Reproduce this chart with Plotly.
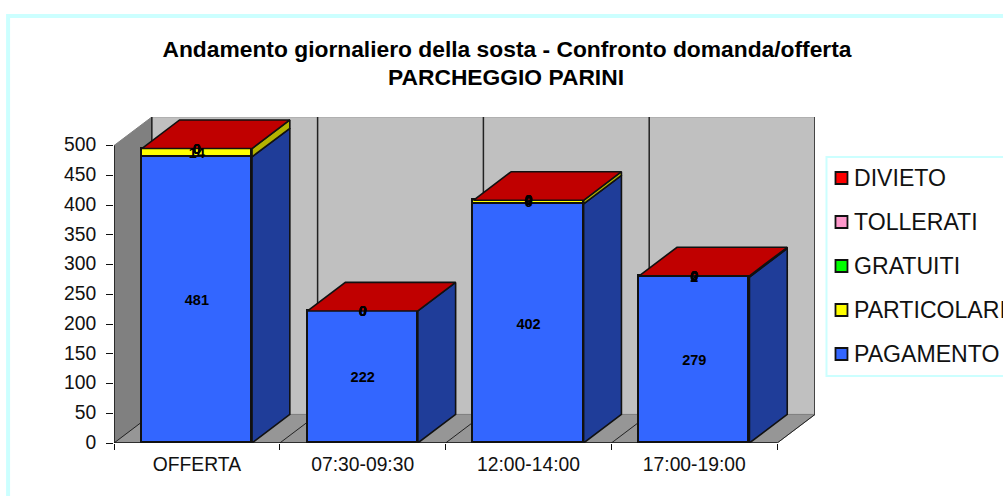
import plotly.graph_objects as go

# ── data ────────────────────────────────────────────
CATEGORIES = ["OFFERTA", "07:30-09:30", "12:00-14:00", "17:00-19:00"]
PAGAMENTO = [481, 222, 402, 279]
PARTICOLARI = [14, 0, 6, 2]
GRATUITI = [0, 0, 0, 0]
TOLLERATI = [0, 0, 0, 0]
DIVIETO = [0, 0, 0, 0]
Y_TICKS = [0, 50, 100, 150, 200, 250, 300, 350, 400, 450, 500]

SERIES = [
    ("PAGAMENTO", PAGAMENTO, "#3366FF", "#1F3D99"),
    ("PARTICOLARI", PARTICOLARI, "#FFFF00", "#B3B300"),
    ("GRATUITI", GRATUITI, "#00FF00", "#00B300"),
    ("TOLLERATI", TOLLERATI, "#FF99CC", "#B36B8F"),
    ("DIVIETO", DIVIETO, "#FF0000", "#C00000"),
]
TOP_FACE = "#C00000"
EDGE = "#111111"

# ── geometry of the fake 3D box ─────────────────────
BAR_W = 0.665
DX = 0.228  # depth in category units
DY = 48     # depth in value units
X_MAX = 4 + DX
Y_TOP = 500 + DY
LABEL_NUDGE = 2.5   # plotly sets text a little high of the given point

# plot area in pixels
L, R, T, B = 114, 815.5, 117, 443


def px(x):
    return (x - L) / (R - L)


def py(y):
    return (B - y) / (B - T)


def poly(xs, ys, fill):
    return go.Scatter(
        x=xs + xs[:1], y=ys + ys[:1], mode="lines", fill="toself", fillcolor=fill,
        line=dict(color=EDGE, width=1.6), hoverinfo="skip", showlegend=False,
        cliponaxis=False,
    )


fig = go.Figure()
centers = [i + 0.5 for i in range(len(CATEGORIES))]

# front faces
for name, vals, col, _ in SERIES:
    fig.add_trace(go.Bar(
        x=centers, y=vals, width=BAR_W, name=name, marker_color=col,
        marker_line=dict(color=EDGE, width=1.6), showlegend=False, cliponaxis=False,
    ))

# side and top faces, labels
base = [0] * len(CATEGORIES)
lx, ly, lt = [], [], []
for name, vals, col, side in SERIES:
    for i, v in enumerate(vals):
        x1 = centers[i] + BAR_W / 2
        if v > 0:
            fig.add_trace(poly(
                [x1, x1 + DX, x1 + DX, x1],
                [base[i], base[i] + DY, base[i] + v + DY, base[i] + v], side,
            ))
        lx.append(centers[i])
        ly.append(base[i] + v / 2 - LABEL_NUDGE)
        lt.append(str(v))
        base[i] += v

for i, c in enumerate(centers):
    x0, x1 = c - BAR_W / 2, c + BAR_W / 2
    fig.add_trace(poly(
        [x0, x1, x1 + DX, x0 + DX],
        [base[i], base[i], base[i] + DY, base[i] + DY], TOP_FACE,
    ))

fig.add_trace(go.Scatter(
    x=lx, y=ly, text=lt, mode="text", textposition="middle center",
    textfont=dict(family="Liberation Sans", size=14.5, color="#000000", weight="bold"),
    hoverinfo="skip", showlegend=False, cliponaxis=False,
))

# axis lines, only as long as the scale
fig.add_trace(go.Scatter(
    x=[0, 0, 4], y=[500, 0, 0], mode="lines", line=dict(color="#111111", width=1.5),
    hoverinfo="skip", showlegend=False, cliponaxis=False,
))

# walls and floor
shapes = [
    dict(type="path", path=f"M {DX} {DY} H {X_MAX} V {Y_TOP} H {DX} Z", fillcolor="#C0C0C0",
         line=dict(color="#A0A0A0", width=1)),
    dict(type="path", path=f"M 0 0 L {DX} {DY} V {Y_TOP} L 0 500 Z", fillcolor="#808080",
         line=dict(color="#808080", width=1)),
    dict(type="path", path=f"M 0 0 L {DX} {DY} H {X_MAX} L 4 0 Z", fillcolor="#969696",
         line=dict(color="#808080", width=1)),
]
for i in range(5):
    shapes.append(dict(type="line", x0=i + DX, x1=i + DX, y0=DY, y1=Y_TOP,
                       line=dict(color="#222222", width=1.5)))
    shapes.append(dict(type="line", x0=i, x1=i + DX, y0=0, y1=DY,
                       line=dict(color="#222222", width=1)))
for s in shapes:
    s.update(xref="x", yref="y", layer="below")

# outer frame and legend box
shapes.append(dict(type="rect", xref="paper", yref="paper", x0=px(8), x1=px(1100), y0=py(16), y1=py(600),
                   line=dict(color="#CCFFFF", width=4), layer="below"))
shapes.append(dict(type="rect", xref="paper", yref="paper", x0=px(827), x1=px(1100), y0=py(157), y1=py(376),
                   line=dict(color="#CCFFFF", width=2), fillcolor="#FFFFFF", layer="below"))

annotations = [dict(xref="paper", yref="paper", x=px(506), y=py(77), text="<b>PARCHEGGIO PARINI</b>",
                    xanchor="center", yanchor="middle", showarrow=False,
                    font=dict(size=22.8, color="#000000"))]
for k, (name, _, col, _) in enumerate(reversed(SERIES)):
    yc = 178 + 44 * k
    shapes.append(dict(type="rect", xref="paper", yref="paper", x0=px(836), x1=px(848),
                       y0=py(yc - 6), y1=py(yc + 6), fillcolor=col,
                       line=dict(color=EDGE, width=1.8)))
    annotations.append(dict(xref="paper", yref="paper", x=px(853), y=py(yc), text=name,
                            xanchor="left", yanchor="middle", showarrow=False,
                            font=dict(size=23.1, color="#111111")))

fig.update_layout(
    width=1003, height=496,
    margin=dict(l=L, r=1003 - R, t=T, b=496 - B),
    barmode="stack",
    bargap=0,
    paper_bgcolor="#FFFFFF",
    plot_bgcolor="#FFFFFF",
    font=dict(family="Liberation Sans", color="#111111"),
    title=dict(
        text="<b>Andamento giornaliero della sosta - Confronto domanda/offerta</b>",
        x=507 / 1003, xanchor="center", y=0.917, yanchor="top",
        font=dict(size=22.8, color="#000000"),
    ),
    showlegend=False,
    shapes=shapes,
    annotations=annotations,
    xaxis=dict(
        range=[0, X_MAX], showgrid=False, zeroline=False, showline=False,
        tickmode="array", tickvals=centers, ticktext=CATEGORIES, ticks="",
        tickfont=dict(size=19.3), ticklabelstandoff=8,
        minor=dict(tickmode="array", tickvals=[0, 1, 2, 3, 4], ticks="outside",
                   ticklen=6, tickwidth=1, tickcolor="#111111", showgrid=False),
    ),
    yaxis=dict(
        range=[0, Y_TOP], showgrid=False, zeroline=False, showline=False,
        tickmode="array", tickvals=Y_TICKS, ticks="outside", ticklen=7, tickwidth=1,
        tickcolor="#111111", tickfont=dict(size=19.3), ticklabelstandoff=6, ticklabelshift=-1,
    ),
)

# the browser's default body margin would push the figure off its 1003x496 frame
fig.write_html("out.html", config={"displayModeBar": False},
               post_script="document.body.style.margin = '0';")
